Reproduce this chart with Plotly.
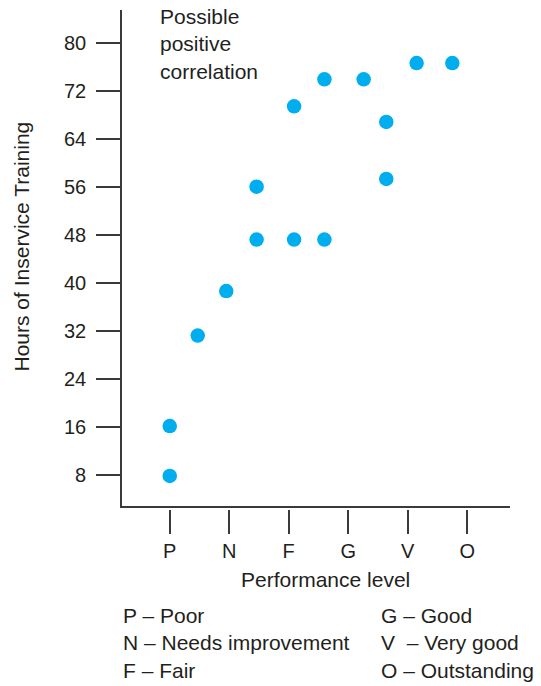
import plotly.graph_objects as go

# Performance levels on the x axis (P = 1 ... O = 6)
level_codes = ["P", "N", "F", "G", "V", "O"]
level_positions = [1, 2, 3, 4, 5, 6]

# Observed employees: performance rating vs. hours of inservice training
performance = [1.0, 1.0, 1.47, 1.95, 2.46, 2.46, 3.09, 3.60, 3.09, 3.60, 4.26, 4.64, 4.64, 5.15, 5.75]
hours = [7.8, 16.1, 31.2, 38.6, 56.0, 47.2, 47.2, 47.2, 69.4, 73.9, 73.9, 66.8, 57.3, 76.6, 76.6]

hour_ticks = [8, 16, 24, 32, 40, 48, 56, 64, 72, 80]

key_left = ["P – Poor", "N – Needs improvement", "F – Fair"]
key_right = ["G – Good", "V\u00a0 – Very good", "O – Outstanding"]

W, H = 541, 686
M_L, M_R, M_T, M_B = 122, 31, 10, 177
PLOT_H = H - M_T - M_B
PLOT_W = W - M_L - M_R

FONT = "Liberation Sans, Arial, Helvetica, sans-serif"
INK = "#231f20"
AXIS = "#3a3a3a"
TXT = 21


def px_x(p):
    return (p - M_L) / PLOT_W


def px_y(p):
    return (H - M_B - p) / PLOT_H


fig = go.Figure()
fig.add_trace(go.Scatter(
    x=performance, y=hours, mode="markers",
    marker=dict(size=14.5, color="#00aeef", line=dict(width=0)),
    showlegend=False, hoverinfo="skip",
))
# invisible trace so the tick axis is drawn
fig.add_trace(go.Scatter(x=level_positions, y=[None] * len(level_positions),
                         xaxis="x2", yaxis="y", mode="markers",
                         showlegend=False, hoverinfo="skip"))

x_range = [0.197, 6.72]
fig.update_layout(
    width=W, height=H,
    margin=dict(l=M_L, r=M_R, t=M_T, b=M_B, pad=0),
    paper_bgcolor="white", plot_bgcolor="white",
    font=dict(family=FONT, color=INK, size=TXT),
    xaxis=dict(range=x_range, showline=True, linecolor=AXIS, linewidth=1.6,
               showgrid=False, zeroline=False, ticks="", showticklabels=False,
               anchor="y"),
    xaxis2=dict(range=x_range, overlaying="x", anchor="free", position=0,
                showline=False, showgrid=False, zeroline=False,
                tickmode="array", tickvals=level_positions, ticktext=level_codes,
                ticks="outside", ticklen=24, tickwidth=1.6, tickcolor=AXIS,
                tickfont=dict(size=20, color=INK)),
    yaxis=dict(range=[2.87, 85.45], domain=[0.007, 1], showline=True,
               linecolor=AXIS, linewidth=1.6, showgrid=False, zeroline=False,
               tickmode="array", tickvals=hour_ticks,
               ticks="outside", ticklen=24, tickwidth=1.6, tickcolor=AXIS,
               ticklabelstandoff=6,
               tickfont=dict(size=20, color=INK), anchor="x"),
)

annotations = [
    dict(text="Possible<br>positive<br>correlation", x=px_x(158), y=px_y(3),
         xanchor="left", yanchor="top", align="left"),
    dict(text="Performance level", x=px_x(325.5), y=px_y(579),
         xanchor="center", yanchor="middle"),
    dict(text="Hours of Inservice Training", x=px_x(21), y=px_y(246.5),
         xanchor="center", yanchor="middle", textangle=-90),
    dict(text="<br>".join(key_left), x=px_x(121), y=px_y(643),
         xanchor="left", yanchor="middle", align="left"),
    dict(text="<br>".join(key_right), x=px_x(379), y=px_y(643),
         xanchor="left", yanchor="middle", align="left"),
]
for a in annotations:
    a.update(xref="paper", yref="paper", showarrow=False,
             font=dict(family=FONT, size=TXT, color=INK))
fig.update_layout(annotations=annotations)

fig.write_html("out.html")
